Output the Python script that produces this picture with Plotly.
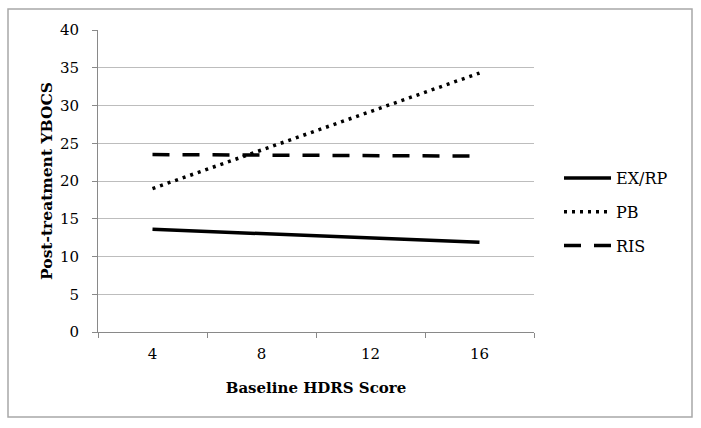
import plotly.graph_objects as go

categories = ["4", "8", "12", "16"]
exrp = [13.6, 13.0, 12.4, 11.9]
pb = [19.0, 24.1, 29.2, 34.3]
ris = [23.5, 23.45, 23.4, 23.3]
y_ticks = [0, 5, 10, 15, 20, 25, 30, 35, 40]

FONT = "DejaVu Serif"

fig = go.Figure()
fig.add_trace(go.Scatter(x=categories, y=exrp, mode="lines", name="EX/RP",
                         legendgroup="a",
                         line=dict(color="black", width=3.5)))
fig.add_trace(go.Scatter(x=categories, y=pb, mode="lines", name="PB",
                         legendgroup="b",
                         line=dict(color="black", width=3.5, dash="3px,5px")))
fig.add_trace(go.Scatter(x=categories, y=ris, mode="lines", name="RIS",
                         legendgroup="c",
                         line=dict(color="black", width=3.5, dash="17px,13px")))

L, R, T, B = 98, 534, 30, 332
W, H = 701, 428
pw, ph = R - L, B - T

fig.update_layout(
    width=W, height=H,
    margin=dict(l=L, r=W - R, t=T, b=H - B),
    paper_bgcolor="white", plot_bgcolor="white",
    font=dict(family=FONT, size=15, color="black"),
    showlegend=True,
    legend=dict(x=(559 - L) / pw, y=(B - 161) / ph, xanchor="left", yanchor="top",
                font=dict(family=FONT, size=16), tracegroupgap=10, itemwidth=47,
                bgcolor="rgba(0,0,0,0)"),
    xaxis=dict(type="category", range=[-0.5, 3.5], showgrid=False,
               showline=True, linecolor="#898989", linewidth=1,
               ticks="outside", tickson="boundaries", ticklen=5, tickcolor="#898989",
               ticklabelstandoff=8,
               tickfont=dict(family=FONT, size=15),
               title=dict(text="<b>Baseline HDRS Score</b>", standoff=20,
                          font=dict(family=FONT, size=15))),
    yaxis=dict(range=[0, 40], tickvals=y_ticks, showgrid=True, gridcolor="#bdbdbd",
               gridwidth=1, zeroline=False,
               showline=True, linecolor="#898989", linewidth=1,
               ticks="outside", ticklen=5, tickcolor="#898989",
               ticklabelstandoff=10,
               tickfont=dict(family=FONT, size=15),
               title=dict(text="<b>Post-treatment YBOCS</b>", standoff=3,
                          font=dict(family=FONT, size=15.5))),
)

fig.add_shape(type="rect", xref="paper", yref="paper",
              x0=(8 - L) / pw, x1=(692 - L) / pw,
              y0=(B - 417) / ph, y1=(B - 9) / ph,
              line=dict(color="#a8a8a8", width=1.5), fillcolor="rgba(0,0,0,0)",
              layer="below")

fig.write_html("out.html", config={"displayModeBar": False},
               post_script="document.body.style.margin='0px';")
